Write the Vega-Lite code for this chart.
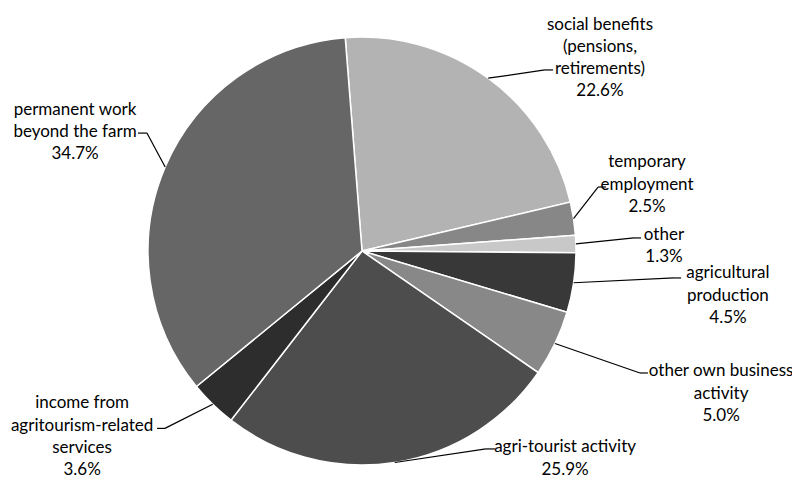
{
  "$schema": "https://vega.github.io/schema/vega-lite/v6.json",
  "width": 792,
  "height": 480,
  "padding": 0,
  "autosize": {"type": "none"},
  "background": "white",
  "config": {"view": {"stroke": null}},
  "data": {
    "values": [
      {"idx": 1, "name": "social benefits|(pensions,|retirements)", "value": 22.6, "ex": 85.5, "ey": 84.6, "tx": 89.3, "ty": 84.6, "lx": 111.2, "ly": 105.8},
      {"idx": 2, "name": "temporary|employment", "value": 2.5, "ex": 110.3, "ey": 29.9, "tx": 114.0, "ty": 29.9, "lx": 133.2, "ly": 41.4},
      {"idx": 3, "name": "other", "value": 1.3, "ex": 127.1, "ey": 6.1, "tx": 130.4, "ty": 6.1, "lx": 141.1, "ly": 7.7},
      {"idx": 4, "name": "agricultural|production", "value": 4.5, "ex": 145.8, "ey": -12.6, "tx": 149.1, "ty": -12.6, "lx": 171.0, "ly": -10.5},
      {"idx": 5, "name": "other own business|activity", "value": 5.0, "ex": 129.9, "ey": -57.0, "tx": 133.6, "ty": -57.0, "lx": 167.8, "ly": -56.3},
      {"idx": 6, "name": "agri-tourist activity", "value": 25.9, "ex": 57.9, "ey": -92.5, "tx": 62.1, "ty": -92.5, "lx": 94.9, "ly": -91.8},
      {"idx": 7, "name": "income from|agritourism-related|services", "value": 3.6, "ex": -92.1, "ey": -82.9, "tx": -95.8, "ty": -82.9, "lx": -130.8, "ly": -71.2},
      {"idx": 8, "name": "permanent work|beyond the farm", "value": 34.7, "ex": -100.5, "ey": 55.1, "tx": -104.7, "ty": 55.1, "lx": -134.1, "ly": 66.1}
    ]
  },
  "transform": [
    {"joinaggregate": [{"op": "sum", "field": "value", "as": "total"}]},
    {"window": [{"op": "sum", "field": "value", "as": "cum"}], "sort": [{"field": "idx"}], "frame": [null, 0]},
    {"calculate": "-0.0785 + 2*PI*(datum.cum - datum.value/2)/datum.total", "as": "mid"},
    {"calculate": "100*sin(datum.mid)", "as": "sx"},
    {"calculate": "100*cos(datum.mid)", "as": "sy"},
    {"calculate": "datum.name + '|' + format(datum.value, '.1f') + '%'", "as": "label"}
  ],
  "layer": [
    {
      "mark": {"type": "arc", "outerRadius": 214, "stroke": "white", "strokeWidth": 1.5},
      "encoding": {
        "x": {"datum": 0, "type": "quantitative", "scale": {"domain": [-169.16, 200.93], "nice": false, "zero": false}, "axis": null},
        "y": {"datum": 0, "type": "quantitative", "scale": {"domain": [-107.01, 117.29], "nice": false, "zero": false}, "axis": null},
        "theta": {"field": "value", "type": "quantitative", "stack": true, "scale": {"range": [-0.0785, 6.2047]}},
        "order": {"field": "idx", "type": "quantitative"},
        "color": {
          "field": "name", "type": "nominal", "legend": null,
          "scale": {
            "domain": ["social benefits|(pensions,|retirements)", "temporary|employment", "other", "agricultural|production", "other own business|activity", "agri-tourist activity", "income from|agritourism-related|services", "permanent work|beyond the farm"],
            "range": ["#b3b3b3", "#878787", "#c8c8c8", "#383838", "#888888", "#4d4d4d", "#2d2d2d", "#666666"]
          }
        }
      }
    },
    {
      "mark": {"type": "rule", "color": "black", "strokeWidth": 1.2},
      "encoding": {
        "x": {"field": "sx", "type": "quantitative"},
        "y": {"field": "sy", "type": "quantitative"},
        "x2": {"field": "ex"},
        "y2": {"field": "ey"}
      }
    },
    {
      "mark": {"type": "rule", "color": "black", "strokeWidth": 1.2},
      "encoding": {
        "x": {"field": "ex", "type": "quantitative"},
        "y": {"field": "ey", "type": "quantitative"},
        "x2": {"field": "tx"},
        "y2": {"field": "ty"}
      }
    },
    {
      "mark": {"type": "text", "font": "Lato", "fontSize": 17, "lineBreak": "|", "lineHeight": 22.3, "align": "center", "baseline": "middle", "color": "black"},
      "encoding": {
        "x": {"field": "lx", "type": "quantitative"},
        "y": {"field": "ly", "type": "quantitative"},
        "text": {"field": "label"}
      }
    }
  ]
}
